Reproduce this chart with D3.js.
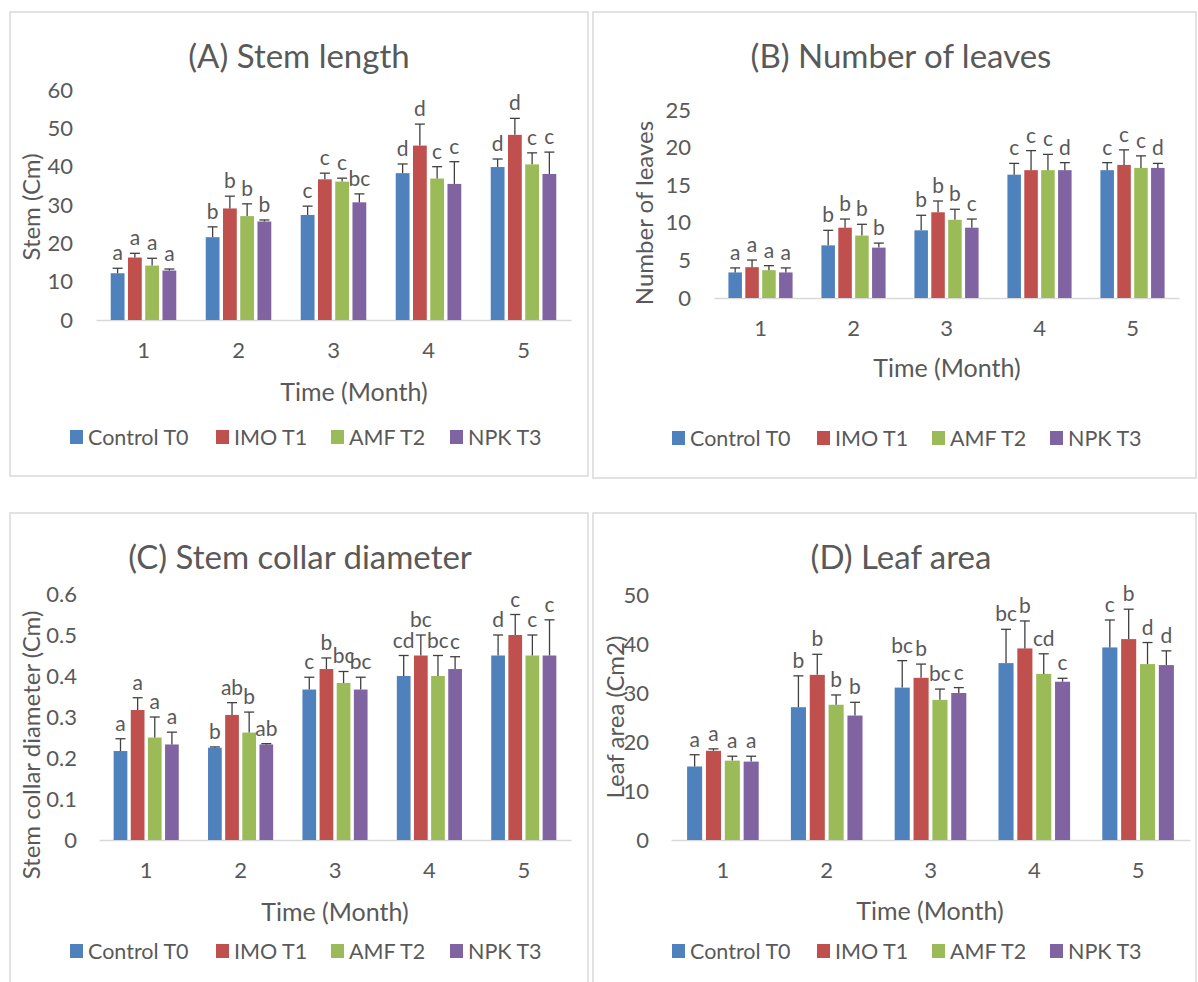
<!DOCTYPE html>
<html>
<head>
<meta charset="utf-8">
<script src="https://cdn.jsdelivr.net/npm/d3@7"></script>
<style>
  body { margin: 0; background: #fff; }
  text { font-family: Lato, "Open Sans", sans-serif; fill: #595959; }
</style>
</head>
<body>
<script>
// ---- data ----
var months = ["1", "2", "3", "4", "5"];
var seriesNames = ["Control T0", "IMO T1", "AMF T2", "NPK T3"];
var colors = ["#4F81BD", "#C0504D", "#9BBB59", "#8064A2"];

// (A) stem length, rows = series, cols = month
var stemMean = [
  [12.2, 21.6, 27.4, 38.3, 39.9],
  [16.3, 29.1, 36.7, 45.5, 48.3],
  [14.2, 27.1, 36.1, 36.9, 40.6],
  [12.9, 25.7, 30.7, 35.5, 38.1]
];
var stemErr = [
  [1.3, 2.7, 2.3, 2.4, 2.1],
  [1.1, 3.2, 1.6, 5.6, 4.3],
  [1.9, 3.2, 0.9, 3.1, 3.0],
  [0.4, 0.4, 2.2, 5.8, 5.7]
];
var stemLetters = [
  ["a", "b", "c", "d", "d"],
  ["a", "b", "c", "d", "d"],
  ["a", "b", "c", "c", "c"],
  ["a", "b", "bc", "c", "c"]
];
var stemTicks = [0, 10, 20, 30, 40, 50, 60];

// (B) number of leaves
var leavesMean = [
  [3.4, 7.0, 9.0, 16.4, 17.0],
  [4.1, 9.35, 11.4, 17.0, 17.7],
  [3.7, 8.3, 10.4, 17.0, 17.3],
  [3.4, 6.7, 9.35, 17.0, 17.3]
];
var leavesErr = [
  [0.6, 2.0, 2.0, 1.5, 1.0],
  [0.95, 1.15, 1.5, 2.6, 2.0],
  [0.6, 1.5, 1.4, 2.1, 1.6],
  [0.6, 0.6, 1.15, 1.0, 0.6]
];
var leavesLetters = [
  ["a", "b", "b", "c", "c"],
  ["a", "b", "b", "c", "c"],
  ["a", "b", "b", "c", "c"],
  ["a", "b", "c", "d", "d"]
];
var leavesTicks = [0, 5, 10, 15, 20, 25];

// (C) stem collar diameter
var collarMean = [
  [0.217, 0.225, 0.367, 0.400, 0.450],
  [0.317, 0.305, 0.417, 0.450, 0.500],
  [0.250, 0.262, 0.383, 0.400, 0.450],
  [0.233, 0.233, 0.367, 0.417, 0.450]
];
var collarErr = [
  [0.030, 0.002, 0.030, 0.050, 0.050],
  [0.030, 0.030, 0.027, 0.050, 0.050],
  [0.050, 0.050, 0.028, 0.050, 0.050],
  [0.030, 0.002, 0.030, 0.030, 0.087]
];
var collarLetters = [
  ["a", "b", "c", "cd", "d"],
  ["a", "ab", "b", "bc", "c"],
  ["a", "b", "bc", "bc", "c"],
  ["a", "ab", "bc", "c", "c"]
];
var collarTicks = ["0", "0.1", "0.2", "0.3", "0.4", "0.5", "0.6"];

// (D) leaf area
var areaMean = [
  [15.0, 27.1, 31.1, 36.1, 39.3],
  [18.2, 33.7, 33.1, 39.1, 41.0],
  [16.2, 27.6, 28.6, 33.9, 35.9],
  [16.0, 25.4, 30.0, 32.3, 35.7]
];
var areaErr = [
  [2.4, 6.4, 5.5, 6.9, 5.6],
  [0.4, 4.2, 2.8, 5.6, 6.1],
  [0.9, 2.0, 2.2, 4.1, 4.4],
  [1.1, 2.7, 1.1, 0.7, 2.9]
];
var areaLetters = [
  ["a", "b", "bc", "bc", "c"],
  ["a", "b", "b", "b", "b"],
  ["a", "b", "bc", "cd", "d"],
  ["a", "b", "c", "c", "d"]
];
var areaTicks = [0, 10, 20, 30, 40, 50];

var svg = d3.select("body").append("svg")
    .attr("width", 1198)
    .attr("height", 982);

function drawPanel(p, means, errs, letters, ticks) {
  var g = svg.append("g");

  g.append("rect")
    .attr("x", p.frame[0]).attr("y", p.frame[1])
    .attr("width", p.frame[2]).attr("height", p.frame[3])
    .attr("fill", "#fff")
    .attr("stroke", "#D9D9D9")
    .attr("stroke-width", 1.5);

  var x0 = d3.scaleBand().domain(months)
      .range([p.left, p.right])
      .paddingInner(0.31).paddingOuter(0.155);
  var x1 = d3.scaleBand().domain(d3.range(seriesNames.length))
      .range([0, x0.bandwidth()])
      .paddingInner(0.2);
  var y = d3.scaleLinear().domain([0, +ticks[ticks.length - 1]])
      .range([p.base, p.top]);

  // title
  g.append("text")
    .attr("x", p.titleX).attr("y", p.titleY)
    .attr("text-anchor", "middle")
    .style("font-size", "33px")
    .text(p.title);

  // y axis (labels only)
  var yAxis = g.append("g")
    .attr("transform", "translate(" + p.tickRight + ",0)")
    .call(d3.axisLeft(y).tickValues(ticks.map(Number)).tickSize(0).tickPadding(0)
      .tickFormat(function(d, i) { return ticks[i]; }));
  yAxis.select(".domain").remove();
  yAxis.selectAll("text")
    .style("font-size", "22px")
    .style("font-family", "Lato, sans-serif")
    .attr("fill", "#595959");

  // x axis
  var xAxis = g.append("g")
    .attr("transform", "translate(0," + p.base + ")")
    .call(d3.axisBottom(x0).tickSize(0).tickSizeOuter(0));
  xAxis.select(".domain")
    .attr("stroke", "#D9D9D9")
    .attr("stroke-width", 1.5);
  xAxis.selectAll("text")
    .attr("y", 30).attr("dy", "0.35em")
    .style("font-size", "22px")
    .style("font-family", "Lato, sans-serif")
    .attr("fill", "#595959");

  // bars
  var rows = [];
  means.forEach(function(vals, s) {
    vals.forEach(function(v, m) {
      rows.push({ s: s, m: months[m], v: v, e: errs[s][m], l: letters[s][m] });
    });
  });

  var cell = g.selectAll(".cell").data(rows).enter().append("g");

  cell.append("rect")
    .attr("x", function(d) { return x0(d.m) + x1(d.s); })
    .attr("y", function(d) { return y(d.v); })
    .attr("width", x1.bandwidth())
    .attr("height", function(d) { return y(0) - y(d.v); })
    .attr("fill", function(d) { return colors[d.s]; });

  var cx = function(d) { return x0(d.m) + x1(d.s) + x1.bandwidth() / 2; };

  cell.append("line")
    .attr("x1", cx).attr("x2", cx)
    .attr("y1", function(d) { return y(d.v); })
    .attr("y2", function(d) { return y(d.v + d.e); })
    .attr("stroke", "#404040").attr("stroke-width", 1.3);
  cell.append("line")
    .attr("x1", function(d) { return cx(d) - 5; })
    .attr("x2", function(d) { return cx(d) + 5; })
    .attr("y1", function(d) { return y(d.v + d.e); })
    .attr("y2", function(d) { return y(d.v + d.e); })
    .attr("stroke", "#404040").attr("stroke-width", 1.3);

  cell.append("text")
    .attr("x", cx)
    .attr("y", function(d) { return y(d.v + d.e) - 8; })
    .attr("text-anchor", "middle")
    .style("font-size", "21px")
    .attr("fill", "#404040")
    .text(function(d) { return d.l; });

  // axis titles
  g.append("text")
    .attr("transform", "translate(" + p.yTitleX + "," + p.yTitleY + ") rotate(-90)")
    .attr("text-anchor", "middle")
    .attr("dy", "0.35em")
    .style("font-size", "24px")
    .text(p.yTitle);
  g.append("text")
    .attr("x", p.xTitleX).attr("y", p.xTitleY)
    .attr("text-anchor", "middle")
    .attr("dy", "0.35em")
    .style("font-size", "25px")
    .text("Time (Month)");

  // legend
  var leg = g.selectAll(".leg").data(seriesNames).enter().append("g")
    .attr("transform", function(d, i) { return "translate(" + p.legendX[i] + "," + p.legendY + ")"; });
  leg.append("rect")
    .attr("x", 0).attr("y", -7)
    .attr("width", 13).attr("height", 14)
    .attr("fill", function(d, i) { return colors[i]; });
  leg.append("text")
    .attr("x", 18).attr("dy", "0.35em")
    .style("font-size", "21.5px")
    .text(function(d) { return d; });
}

drawPanel({
  frame: [10, 12, 578, 464], title: "(A) Stem length", titleX: 299, titleY: 68,
  left: 96, right: 571, base: 320, top: 90, tickRight: 73,
  yTitle: "Stem (Cm)", yTitleX: 32, yTitleY: 207, xTitleX: 354, xTitleY: 392,
  legendX: [70, 216, 331, 450], legendY: 437
}, stemMean, stemErr, stemLetters, stemTicks);

drawPanel({
  frame: [593, 12, 603, 466], title: "(B) Number of leaves", titleX: 901, titleY: 68,
  left: 714, right: 1179, base: 298, top: 110, tickRight: 691,
  yTitle: "Number of leaves", yTitleX: 645, yTitleY: 213, xTitleX: 947, xTitleY: 368,
  legendX: [672, 817, 932, 1050], legendY: 438
}, leavesMean, leavesErr, leavesLetters, leavesTicks);

drawPanel({
  frame: [10, 513, 578, 480], title: "(C) Stem collar diameter", titleX: 300, titleY: 569,
  left: 99, right: 571, base: 840, top: 594, tickRight: 77,
  yTitle: "Stem collar diameter (Cm)", yTitleX: 32, yTitleY: 745, xTitleX: 335, xTitleY: 912,
  legendX: [70, 216, 331, 450], legendY: 951
}, collarMean, collarErr, collarLetters, collarTicks);

drawPanel({
  frame: [593, 513, 603, 480], title: "(D) Leaf area", titleX: 901, titleY: 569,
  left: 671, right: 1190, base: 840, top: 595, tickRight: 649,
  yTitle: "Leaf area (Cm2)", yTitleX: 616, yTitleY: 717, xTitleX: 930, xTitleY: 911,
  legendX: [672, 817, 932, 1050], legendY: 951
}, areaMean, areaErr, areaLetters, areaTicks);
</script>
</body>
</html>
